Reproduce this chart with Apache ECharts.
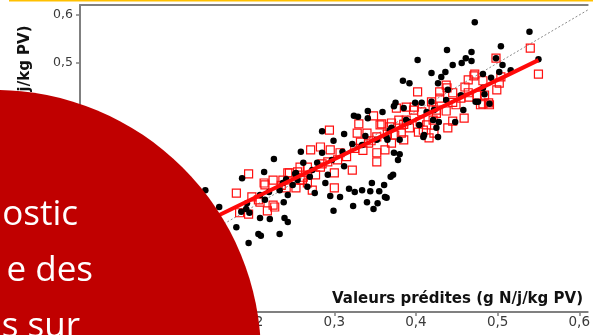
<!DOCTYPE html>
<html>
<head>
<meta charset="utf-8">
<script src="https://cdn.jsdelivr.net/npm/echarts@6/dist/echarts.min.js"></script>
<style>
  html, body { margin: 0; padding: 0; background: #fff; }
  #chart { width: 593px; height: 335px; }
</style>
</head>
<body>
<div id="chart"></div>
<script>
// Tick positions shared by both axes (g N/j/kg PV)
const tickValues = [0, 0.1, 0.2, 0.3, 0.4, 0.5, 0.6];

// Observed vs predicted, first group (filled black dots): [predicted, observed]
const groupDots = [
  [0.472,0.585],[0.539,0.565],[0.504,0.535],[0.438,0.527],[0.468,0.523],[0.402,0.506],[0.461,0.510],[0.468,0.504],[0.445,0.496],[0.456,0.500],
  [0.419,0.479],[0.436,0.481],[0.431,0.471],[0.427,0.458],[0.384,0.463],[0.392,0.458],[0.482,0.477],[0.498,0.510],[0.506,0.496],[0.550,0.508],
  [0.502,0.481],[0.482,0.448],[0.484,0.435],[0.476,0.419],[0.490,0.415],[0.439,0.444],[0.473,0.419],[0.458,0.402],[0.375,0.417],[0.385,0.406],
  [0.399,0.417],[0.407,0.417],[0.419,0.419],[0.422,0.402],[0.391,0.377],[0.368,0.360],[0.404,0.371],[0.421,0.381],[0.428,0.377],[0.425,0.365],
  [0.409,0.346],[0.427,0.346],[0.365,0.340],[0.380,0.340],[0.324,0.390],[0.329,0.388],[0.341,0.400],[0.341,0.385],[0.359,0.398],[0.373,0.410],
  [0.285,0.358],[0.312,0.352],[0.338,0.348],[0.364,0.346],[0.259,0.315],[0.285,0.313],[0.322,0.331],[0.373,0.313],[0.262,0.292],[0.279,0.292],
  [0.312,0.285],[0.252,0.269],[0.270,0.263],[0.292,0.267],[0.249,0.246],[0.267,0.242],[0.289,0.250],[0.346,0.250],[0.361,0.246],[0.318,0.238],
  [0.325,0.231],[0.334,0.235],[0.344,0.233],[0.355,0.233],[0.362,0.221],[0.295,0.223],[0.307,0.221],[0.372,0.267],[0.323,0.202],[0.340,0.210],
  [0.353,0.208],[0.348,0.196],[0.299,0.192],[0.243,0.225],[0.276,0.229],[0.243,0.169],[0.380,0.310],[0.378,0.298],[0.369,0.263],[0.364,0.219],
  [0.448,0.377],[0.410,0.350],[0.226,0.300],[0.214,0.273],[0.187,0.260],[0.253,0.271],[0.142,0.235],[0.159,0.200],[0.193,0.208],[0.192,0.196],
  [0.196,0.188],[0.220,0.231],[0.233,0.235],[0.209,0.177],[0.221,0.175],[0.180,0.158],[0.239,0.177],[0.207,0.144],[0.210,0.140],[0.233,0.144],
  [0.195,0.125],[0.241,0.258],[0.238,0.210],[0.215,0.215],[0.186,0.190],[0.299,0.338],
  [0.209,0.225],[0.237,0.250],[0.255,0.256],[0.273,0.277],[0.297,0.298],[0.310,0.315],[0.334,0.329],[0.352,0.340],[0.370,0.365],[0.388,0.381],
  [0.413,0.398],[0.437,0.423],[0.455,0.433],[0.492,0.469],[0.516,0.485]
];

// Second group (open red squares): [predicted, observed]
const groupSquares = [
  [0.498,0.510],[0.540,0.531],[0.550,0.477],[0.482,0.463],[0.504,0.471],[0.502,0.458],[0.499,0.444],[0.484,0.433],[0.479,0.413],[0.490,0.413],
  [0.437,0.454],[0.471,0.473],[0.464,0.465],[0.460,0.450],[0.429,0.440],[0.445,0.438],[0.464,0.438],[0.402,0.440],[0.449,0.413],[0.459,0.385],
  [0.445,0.379],[0.437,0.400],[0.421,0.408],[0.407,0.398],[0.397,0.402],[0.388,0.381],[0.370,0.375],[0.374,0.350],[0.392,0.365],[0.403,0.356],
  [0.413,0.371],[0.422,0.354],[0.439,0.365],[0.385,0.340],[0.416,0.344],[0.348,0.390],[0.294,0.360],[0.330,0.373],[0.358,0.373],[0.368,0.367],
  [0.328,0.354],[0.340,0.354],[0.352,0.346],[0.332,0.335],[0.342,0.333],[0.362,0.319],[0.352,0.313],[0.352,0.294],[0.322,0.277],[0.283,0.325],
  [0.271,0.319],[0.295,0.319],[0.307,0.313],[0.304,0.298],[0.292,0.294],[0.283,0.283],[0.300,0.271],[0.267,0.283],[0.255,0.273],[0.243,0.271],
  [0.277,0.267],[0.259,0.256],[0.267,0.250],[0.253,0.240],[0.273,0.235],[0.300,0.240],[0.195,0.269],[0.180,0.229],[0.199,0.221],[0.209,0.210],
  [0.215,0.246],[0.225,0.256],[0.237,0.256],[0.245,0.271],[0.258,0.283],[0.261,0.256],[0.227,0.200],[0.218,0.192],[0.195,0.185],[0.184,0.188],
  [0.214,0.250],[0.207,0.215],[0.225,0.204],[0.241,0.240],[0.376,0.406],[0.379,0.381],[0.388,0.408],[0.398,0.408],[0.409,0.360],[0.421,0.381],
  [0.425,0.402],[0.482,0.415],[0.489,0.417],[0.356,0.371],[0.472,0.477],[0.455,0.427],[0.465,0.429],[0.475,0.433],[0.429,0.427],[0.419,0.419],
  [0.438,0.448],[0.370,0.333],[0.382,0.354],
  [0.315,0.305],[0.325,0.322],[0.345,0.338],[0.365,0.352],[0.385,0.372],[0.405,0.378],[0.425,0.395],[0.445,0.418],[0.235,0.245],[0.262,0.262],
  [0.285,0.290],[0.335,0.318]
];

// Fitted regression for the squares, and the 1:1 reference line
const fitLine = [[0.12, 0.151], [0.55, 0.506]];
const identityLine = [[0, 0], [0.62, 0.62]];

// Axis ranges
const xRange = [-0.0115, 0.6103];
const yRange = [-0.01875, 0.6208];

// Slide text lines visible on the red disc
const slideLines = ['ostic', 'e des', 's sur'];

const axisGrey = '#808080';
const fmt = v => v.toFixed(1).replace('.', ',');

const chart = echarts.init(document.getElementById('chart'), null, { renderer: 'canvas' });

chart.setOption({
  animation: false,
  backgroundColor: '#fff',
  grid: { left: 80, top: 5, right: 0, bottom: 23, show: false },
  xAxis: [
    {
      type: 'value', min: xRange[0], max: xRange[1],
      axisLine: { show: true, onZero: false, lineStyle: { color: axisGrey, width: 2 } },
      axisTick: { show: true, length: 4, customValues: tickValues, lineStyle: { color: axisGrey, width: 1.5 } },
      axisLabel: { customValues: tickValues, formatter: fmt, color: '#3a3a3a', fontSize: 13.5, fontFamily: 'DejaVu Sans', margin: 3 },
      splitLine: { show: false }
    },
    {
      // top frame edge of the plot box
      type: 'value', position: 'top', min: xRange[0], max: xRange[1],
      axisLine: { show: true, onZero: false, lineStyle: { color: axisGrey, width: 2 } },
      axisTick: { show: false }, axisLabel: { show: false }, splitLine: { show: false }
    }
  ],
  yAxis: {
    type: 'value', min: yRange[0], max: yRange[1],
    axisLine: { show: true, onZero: false, lineStyle: { color: axisGrey, width: 2 } },
    axisTick: { show: true, length: 4, customValues: tickValues, lineStyle: { color: axisGrey, width: 1.5 } },
    axisLabel: { customValues: tickValues, formatter: fmt, color: '#3a3a3a', fontSize: 12.5, fontFamily: 'DejaVu Sans', margin: 7 },
    splitLine: { show: false }
  },
  series: [
    {
      type: 'line', data: identityLine, symbol: 'none', silent: true, z: 1,
      lineStyle: { color: '#8a8a8a', width: 1, type: [2, 2] }
    },
    {
      type: 'scatter', data: groupSquares, symbol: 'rect', symbolSize: 8, z: 2,
      itemStyle: { color: 'rgba(0,0,0,0)', borderColor: '#ff1010', borderWidth: 1.2, opacity: 1 }
    },
    {
      type: 'scatter', data: groupDots, symbol: 'circle', symbolSize: 6.5, z: 3,
      itemStyle: { color: '#000', opacity: 1 }
    },
    {
      type: 'line', data: fitLine, symbol: 'none', silent: true, z: 4,
      lineStyle: { color: '#ff0a0a', width: 4 }
    }
  ],
  graphic: [
    { type: 'rect', shape: { x: 9, y: 0, width: 584, height: 1.5 }, style: { fill: '#FFC000' }, z: 10 },
    {
      type: 'text', x: 583, y: 299, z: 10,
      style: { text: 'Valeurs prédites (g N/j/kg PV)', font: 'bold 15px "DejaVu Sans"', fill: '#111',
               textAlign: 'right', textVerticalAlign: 'middle' }
    },
    {
      type: 'text', x: 25, y: 159, rotation: Math.PI / 2, z: 10,
      style: { text: 'Valeurs observées (g N/j/kg PV)', font: 'bold 15px "DejaVu Sans"', fill: '#111',
               textAlign: 'center', textVerticalAlign: 'middle' }
    },
    { type: 'circle', shape: { cx: -5, cy: 356, r: 266 }, style: { fill: '#C00000' }, z: 100 },
    { type: 'text', x: 78, y: 215, z: 101,
      style: { text: slideLines[0], font: '35px "Open Sans"', fill: '#fff', textAlign: 'right', textVerticalAlign: 'middle' } },
    { type: 'text', x: 93, y: 271, z: 101,
      style: { text: slideLines[1], font: '35px "Open Sans"', fill: '#fff', textAlign: 'right', textVerticalAlign: 'middle' } },
    { type: 'text', x: 80, y: 327, z: 101,
      style: { text: slideLines[2], font: '35px "Open Sans"', fill: '#fff', textAlign: 'right', textVerticalAlign: 'middle' } }
  ]
});
</script>
</body>
</html>
